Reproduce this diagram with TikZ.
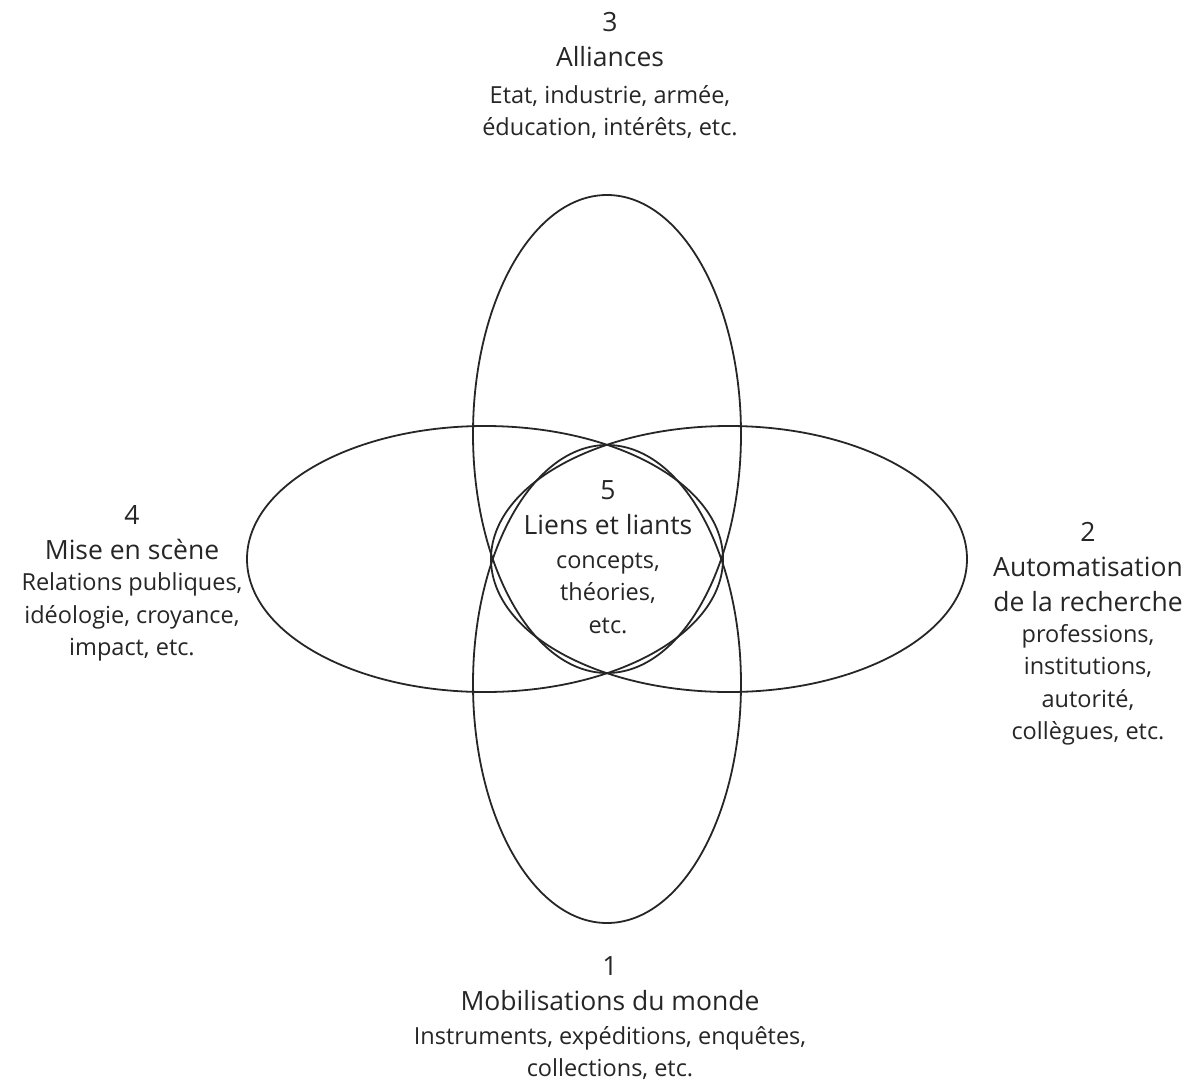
\documentclass[tikz,border=0pt]{standalone}
\usepackage{fontspec}
\setmainfont{Open Sans}
\usetikzlibrary{positioning}

\begin{document}
\begin{tikzpicture}[
   x=1pt,y=-1pt,
   petal/.style={draw=black!85,line width=1.8pt},
   head/.style={align=center,inner sep=0pt,text=black!85,font=\fontsize{26.5}{35}\selectfont},
   body/.style={align=center,inner sep=0pt,text=black!85,font=\fontsize{23.5}{32.5}\selectfont}]
\useasboundingbox (0,0) rectangle (1191,1084);
% the four petals
\draw[petal] (607,434) ellipse [x radius=134,y radius=239];
\draw[petal] (607,684) ellipse [x radius=134,y radius=239];
\draw[petal] (485,559) ellipse [x radius=238,y radius=133];
\draw[petal] (729,559) ellipse [x radius=238,y radius=133];
% labels
\node[head] (h3) at (610,40) {3\\Alliances};
\node[body] (b3) at (610,112) {Etat, industrie, armée,\\éducation, intérêts, etc.};
\node[head] (h4) at (132,533) {4\\Mise en scène};
\node[body] (b4) at (132,617) {Relations publiques,\\idéologie, croyance,\\impact, etc.};
\node[head] (h2) at (1088,567) {2\\Automatisation\\de la recherche};
\node[body] (b2) at (1088,685) {professions,\\institutions,\\autorité,\\collègues, etc.};
\node[head] (h5) at (608,508) {5\\Liens et liants};
\node[body] (b5) at (608,593) {concepts,\\théories,\\etc.};
\node[head] (h1) at (610,984) {1\\Mobilisations du monde};
\node[body] (b1) at (610,1053) {Instruments, expéditions, enquêtes,\\collections, etc.};
\end{tikzpicture}
\end{document}
